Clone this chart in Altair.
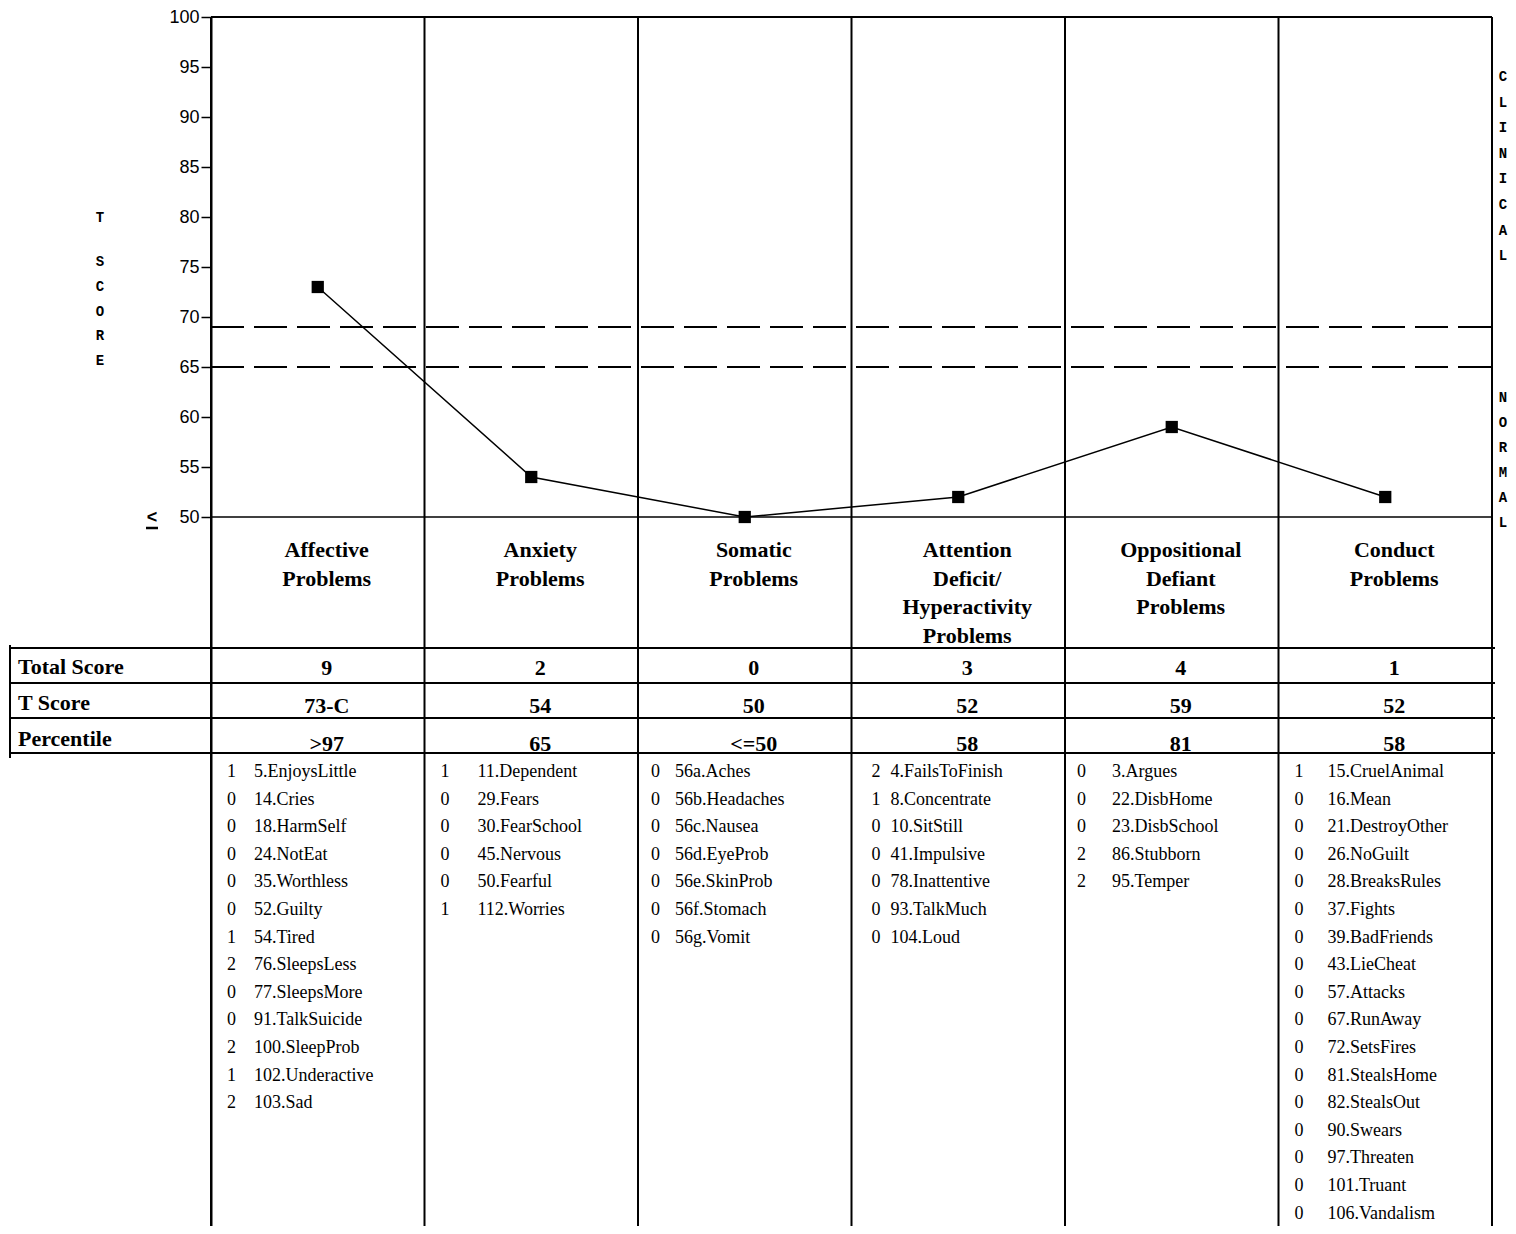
import altair as alt
import pandas as pd

# ---------------- data ----------------
scale_names = ["Affective\nProblems", "Anxiety\nProblems", "Somatic\nProblems",
               "Attention\nDeficit/\nHyperactivity\nProblems",
               "Oppositional\nDefiant\nProblems", "Conduct\nProblems"]
t_scores = [73, 54, 50, 52, 59, 52]
total_scores = ["9", "2", "0", "3", "4", "1"]
t_labels = ["73-C", "54", "50", "52", "59", "52"]
percentiles = [">97", "65", "<=50", "58", "81", "58"]
row_labels = ["Total Score", "T Score", "Percentile"]
borderline_cuts = [69, 65]
y_ticks = [50, 55, 60, 65, 70, 75, 80, 85, 90, 95, 100]

affective_scores = [1, 0, 0, 0, 0, 0, 1, 2, 0, 0, 2, 1, 2]
affective_items = ["5.EnjoysLittle", "14.Cries", "18.HarmSelf", "24.NotEat", "35.Worthless",
                   "52.Guilty", "54.Tired", "76.SleepsLess", "77.SleepsMore", "91.TalkSuicide",
                   "100.SleepProb", "102.Underactive", "103.Sad"]
anxiety_scores = [1, 0, 0, 0, 0, 1]
anxiety_items = ["11.Dependent", "29.Fears", "30.FearSchool", "45.Nervous", "50.Fearful",
                 "112.Worries"]
somatic_scores = [0, 0, 0, 0, 0, 0, 0]
somatic_items = ["56a.Aches", "56b.Headaches", "56c.Nausea", "56d.EyeProb", "56e.SkinProb",
                 "56f.Stomach", "56g.Vomit"]
adh_scores = [2, 1, 0, 0, 0, 0, 0]
adh_items = ["4.FailsToFinish", "8.Concentrate", "10.SitStill", "41.Impulsive",
             "78.Inattentive", "93.TalkMuch", "104.Loud"]
odd_scores = [0, 0, 0, 2, 2]
odd_items = ["3.Argues", "22.DisbHome", "23.DisbSchool", "86.Stubborn", "95.Temper"]
conduct_scores = [1, 0, 0, 0, 0, 0, 0, 0, 0, 0, 0, 0, 0, 0, 0, 0, 0]
conduct_items = ["15.CruelAnimal", "16.Mean", "21.DestroyOther", "26.NoGuilt",
                 "28.BreaksRules", "37.Fights", "39.BadFriends", "43.LieCheat", "57.Attacks",
                 "67.RunAway", "72.SetsFires", "81.StealsHome", "82.StealsOut", "90.Swears",
                 "97.Threaten", "101.Truant", "106.Vandalism"]

item_scores = [affective_scores, anxiety_scores, somatic_scores, adh_scores, odd_scores,
               conduct_scores]
item_names = [affective_items, anxiety_items, somatic_items, adh_items, odd_items,
              conduct_items]

# ---------------- layout (pixels) ----------------
W, H = 1281, 1209
COLW = W / 6.0
TOP = 17          # page y of T = 100
LEFT = 211        # page x of the axis
YMIN = 100 - H / 10.0


def yv(p):
    return 100 - (p - TOP) / 10.0


def xv(p):
    return (p - LEFT) / COLW


score_indent = [16, 16, 13, 20, 12, 16]
name_indent = [43, 53, 37, 39, 47, 49]

xs = alt.Scale(domain=[0, 6], nice=False, zero=False)
ys = alt.Scale(domain=[YMIN, 100], nice=False, zero=False)
yaxis = alt.Axis(values=y_ticks, title=None, grid=False, tickSize=10, tickWidth=1.5,
                 tickColor="black", domainColor="black", domainWidth=2,
                 labelFont="Liberation Sans", labelFontSize=18, labelColor="black",
                 labelPadding=2)


def X(f="x"):
    return alt.X(f, type="quantitative", scale=xs, axis=None)


def Y(f="y"):
    return alt.Y(f, type="quantitative", scale=ys, axis=yaxis)


# column lines
vdf = pd.DataFrame({"x": list(range(7)), "y": [100] * 7, "y2": [YMIN] * 7})
vlines = alt.Chart(vdf).mark_rule(color="black", strokeWidth=2).encode(
    x=X(), y=Y(), y2="y2")

# top border and T=50 base line
hdf = pd.DataFrame({"x": [0, 0], "x2": [6, 6], "y": [100, 50], "w": [2, 1.5]})
hlines = alt.Chart(hdf).mark_rule(color="black").encode(
    x=X(), x2="x2", y=Y(), strokeWidth=alt.StrokeWidth("w:Q", scale=None))

# borderline / clinical cut lines
ddf = pd.DataFrame({"x": [0] * len(borderline_cuts), "x2": [6] * len(borderline_cuts),
                    "y": borderline_cuts})
dashed = alt.Chart(ddf).mark_rule(color="black", strokeWidth=2,
                                  strokeDash=[33, 10]).encode(x=X(), x2="x2", y=Y())

# profile
pdf = pd.DataFrame({"x": [i + 0.5 for i in range(6)], "y": t_scores})
line = alt.Chart(pdf).mark_line(color="black", strokeWidth=1.5).encode(x=X(), y=Y())
pts = alt.Chart(pdf).mark_square(size=150, color="black", opacity=1).encode(x=X(), y=Y())

# scale names
ndf = pd.DataFrame({"x": [i + 0.5 for i in range(6)], "y": [yv(540)] * 6,
                    "t": scale_names})
names = alt.Chart(ndf).mark_text(font="Liberation Serif", fontWeight="bold", fontSize=22,
                                 lineBreak="\n", lineHeight=28.7, baseline="top",
                                 align="center", dx=9, color="black").encode(
    x=X(), y=Y(), text="t:N")

# table lines
tdf = pd.DataFrame({"x": [xv(10)] * 4, "x2": [xv(1495)] * 4,
                    "y": [yv(648), yv(683), yv(718), yv(753)]})
tlines = alt.Chart(tdf).mark_rule(color="black", strokeWidth=2).encode(
    x=X(), x2="x2", y=Y())
ldf = pd.DataFrame({"x": [xv(10)], "y": [yv(645)], "y2": [yv(758)]})
lline = alt.Chart(ldf).mark_rule(color="black", strokeWidth=2).encode(
    x=X(), y=Y(), y2="y2")

row_base = [674, 710, 746]
rdf = pd.DataFrame({"x": [xv(18)] * 3, "y": [yv(b) for b in row_base], "t": row_labels})
rlabels = alt.Chart(rdf).mark_text(font="Liberation Serif", fontWeight="bold", fontSize=22,
                                   baseline="alphabetic", align="left",
                                   color="black").encode(x=X(), y=Y(), text="t:N")

val_base = [675, 713, 751]
vals = []
for r, row in enumerate([total_scores, t_labels, percentiles]):
    for i, v in enumerate(row):
        vals.append({"x": i + 0.5, "y": yv(val_base[r]), "t": v})
valtext = alt.Chart(pd.DataFrame(vals)).mark_text(
    font="Liberation Serif", fontWeight="bold", fontSize=22, baseline="alphabetic",
    align="center", dx=9, color="black").encode(x=X(), y=Y(), text="t:N")

# item lists
irows = []
for c in range(6):
    for k, (s, n) in enumerate(zip(item_scores[c], item_names[c])):
        yy = yv(777 + 27.6 * k)
        irows.append({"x": c + score_indent[c] / COLW, "y": yy, "t": str(s)})
        irows.append({"x": c + name_indent[c] / COLW, "y": yy, "t": n})
items = alt.Chart(pd.DataFrame(irows)).mark_text(
    font="Liberation Serif", fontSize=18, baseline="alphabetic", align="left",
    color="black").encode(x=X(), y=Y(), text="t:N")

# side letters
side = []
for k, ch in enumerate("CLINICAL"):
    side.append({"x": xv(1503), "y": yv(77 + 25.6 * k), "t": ch})
for k, ch in enumerate("NORMAL"):
    side.append({"x": xv(1503), "y": yv(398 + 25.0 * k), "t": ch})
side.append({"x": xv(100), "y": yv(218), "t": "T"})
for k, ch in enumerate("SCORE"):
    side.append({"x": xv(100), "y": yv(262 + 24.8 * k), "t": ch})
sidetext = alt.Chart(pd.DataFrame(side)).mark_text(
    font="Liberation Mono", fontWeight="bold", fontSize=14, baseline="middle",
    align="center", color="black").encode(x=X(), y=Y(), text="t:N")

# "less than or equal" marker: "<" with an underline
le = alt.Chart(pd.DataFrame({"x": [xv(152)], "y": [yv(518)], "t": ["<"]})).mark_text(
    font="Liberation Sans", fontWeight="bold", fontSize=18, baseline="middle",
    align="center", color="black").encode(x=X(), y=Y(), text="t:N")
le_bar = alt.Chart(pd.DataFrame({"x": [xv(146)], "x2": [xv(158)], "y": [yv(528)]})).mark_rule(
    color="black", strokeWidth=2.5).encode(x=X(), x2="x2", y=Y())

chart = alt.layer(vlines, hlines, dashed, line, pts, names, tlines, lline, rlabels,
                  valtext, items, sidetext, le, le_bar).properties(
    width=W, height=H,
    autosize=alt.AutoSizeParams(type="none"),
    padding={"left": 203, "top": 9, "right": 16, "bottom": 0},
).configure_view(strokeWidth=0)

chart.save("out.html", embed_options={"renderer": "svg", "actions": False})
